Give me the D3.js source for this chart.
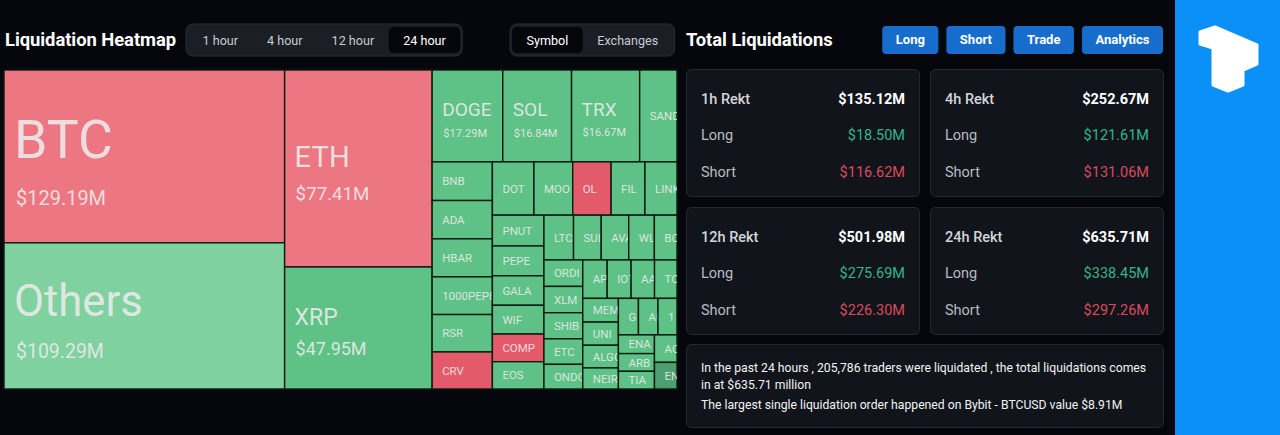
<!DOCTYPE html>
<html>
<head>
<meta charset="utf-8">
<script src="https://cdn.jsdelivr.net/npm/d3@7"></script>
<style>
  html, body { margin: 0; background: #05070d; overflow: hidden; }
  svg { display: block; font-family: Roboto, "Noto Sans", sans-serif; }
</style>
</head>
<body>
<svg id="chart" width="1280" height="435"></svg>
<script>
"use strict";

// heatmap cells, largest first (same order the site sends them)
var symbols = ["BTC", "Others", "ETH", "XRP", "DOGE", "SOL", "TRX", "SAND",
  "BNB", "ADA", "HBAR", "1000PEPE", "RSR", "CRV",
  "DOT", "MOODENG", "OL", "FIL", "LINK",
  "PNUT", "PEPE", "GALA", "WIF", "COMP", "EOS",
  "LTC", "SUI", "AVAX", "WLD", "BCH",
  "ORDI", "XLM", "SHIB", "ETC", "ONDO",
  "APT", "IOTA", "AAVE", "TON",
  "MEME", "UNI", "ALGO", "NEIRO",
  "GOAT", "AI16Z", "1000BONK",
  "ENA", "ARB", "TIA",
  "ACT", "ENS"];

// liquidated amount, $M
var amounts = [129.19, 109.29, 77.41, 47.95, 17.29, 16.84, 16.67, 9.14,
  6.2, 6.15, 6.1, 6.05, 6.0, 5.95,
  5.9, 5.5, 5.45, 4.8, 4.55,
  4.23, 4.1, 4.05, 3.95, 3.8, 3.75,
  3.53, 3.3, 3.28, 3.06, 2.7,
  2.74, 2.72, 2.7, 2.64, 2.55,
  2.5, 2.45, 2.4, 2.3,
  2.25, 2.2, 2.15, 2.0,
  1.95, 1.9, 1.85,
  1.8, 1.7, 1.7,
  1.65, 1.6];

// -2 heavy short, -1 short, 1 light long, 2 long, 3 heavy long
var bias = [-1, 1, -1, 2, 2, 2, 2, 2,
  2, 2, 2, 2, 2, -2,
  2, 2, -2, 2, 2,
  2, 2, 2, 2, -2, 2,
  2, 2, 2, 2, 2,
  2, 2, 2, 2, 2,
  2, 2, 2, 2,
  2, 2, 2, 2,
  2, 2, 2,
  2, 2, 2,
  2, 3];

// rekt cards
var periods = ["1h Rekt", "4h Rekt", "12h Rekt", "24h Rekt"];
var totals = [135.12, 252.67, 501.98, 635.71];
var longs = [18.50, 121.61, 275.69, 338.45];
var shorts = [116.62, 131.06, 226.30, 297.26];

var timeTabs = ["1 hour", "4 hour", "12 hour", "24 hour"];
var groupTabs = ["Symbol", "Exchanges"];
var actions = ["Long", "Short", "Trade", "Analytics"];

var summary = [
  "In the past 24 hours , 205,786 traders were liquidated , the total liquidations comes",
  "in at $635.71 million",
  "The largest single liquidation order happened on Bybit - BTCUSD value $8.91M"
];

var svg = d3.select("#chart");
var money = function (v) { return "$" + d3.format(".2f")(v) + "M"; };

// ---------- header: left ----------
svg.append("text")
  .attr("x", 5).attr("y", 46)
  .attr("fill", "#fff")
  .attr("font-size", 18.4).attr("font-weight", 700)
  .attr("letter-spacing", -0.05)
  .text("Liquidation Heatmap");

// segmented control; selected index gets the dark pill
function segmented(x, y, labels, selected) {
  var g = svg.append("g");
  var box = g.append("rect")
    .attr("x", x).attr("y", y).attr("height", 32).attr("rx", 7)
    .attr("fill", "#1b1e25").attr("stroke", "#2a2e37");
  var cx = x + 2;
  labels.forEach(function (lab, i) {
    var t = g.append("text")
      .attr("y", y + 21)
      .attr("font-size", 12.6)
      .attr("fill", i === selected ? "#fff" : "#c9cbd0")
      .text(lab);
    var tw = t.node().getComputedTextLength();
    if (i === selected) {
      g.insert("rect", "text")
        .attr("x", cx).attr("y", y + 3)
        .attr("width", tw + 29).attr("height", 26).attr("rx", 5)
        .attr("fill", "#05070b");
    }
    t.attr("x", cx + 14.5);
    cx += tw + 29;
  });
  box.attr("width", cx + 2 - x);
}
segmented(186, 24, timeTabs, 3);
segmented(510, 24, groupTabs, 0);

// ---------- header: right ----------
svg.append("text")
  .attr("x", 686).attr("y", 46)
  .attr("fill", "#fff")
  .attr("font-size", 18.4).attr("font-weight", 700)
  .attr("letter-spacing", -0.05)
  .text("Total Liquidations");

// buttons are laid out from the right edge
var bx = 1163;
actions.slice().reverse().forEach(function (lab) {
  var g = svg.append("g");
  var t = g.append("text")
    .attr("y", 44).attr("font-size", 13).attr("font-weight", 700)
    .attr("fill", "#fff").attr("text-anchor", "middle")
    .text(lab);
  var w = t.node().getComputedTextLength() + 27;
  g.insert("rect", "text")
    .attr("x", bx - w).attr("y", 26).attr("width", w).attr("height", 28).attr("rx", 4)
    .attr("fill", "#176dcc");
  t.attr("x", bx - w / 2);
  bx -= w + 8;
});

// blue side panel with logo
svg.append("rect")
  .attr("x", 1175).attr("y", 0).attr("width", 105).attr("height", 435)
  .attr("fill", "#0b90f7");
svg.append("path")
  .attr("d", "M1200,32 L1215,27 L1257,45 L1257,64 L1243,70 L1243,85 L1228,91 L1213,85 L1213,48 L1200,44 Z")
  .attr("fill", "#fff").attr("stroke", "#fff")
  .attr("stroke-width", 3).attr("stroke-linejoin", "round");

// ---------- treemap ----------
var mapX = 4, mapY = 70, mapW = 673, mapH = 319;

var tone = d3.scaleOrdinal()
  .domain([-2, -1, 1, 2, 3])
  .range(["#e35a6b", "#ec7682", "#7fd19f", "#5ec185", "#4d9f6f"]);

var nameSize = d3.scaleLinear()
  .domain([10, 16.5, 48, 77, 110, 130])
  .range([11.5, 19, 23, 29, 44, 54])
  .clamp(true);

var valueSize = d3.scaleLinear()
  .domain([16.5, 48, 130])
  .range([11, 18, 20])
  .clamp(true);

var root = d3.hierarchy({
  children: symbols.map(function (s, i) {
    return { name: s, value: amounts[i], bias: bias[i] };
  })
}).sum(function (d) { return d.value || 0; });

d3.treemap()
  .tile(d3.treemapSquarify)
  .size([mapW, mapH])(root);

var map = svg.append("g").attr("transform", "translate(" + mapX + "," + mapY + ")");

var cell = map.selectAll(".cell")
  .data(root.leaves())
  .enter()
  .append("g")
  .attr("class", "cell")
  .attr("transform", function (d) { return "translate(" + d.x0 + "," + d.y0 + ")"; });

cell.append("clipPath")
  .attr("id", function (d, i) { return "clip" + i; })
  .append("rect")
  .attr("width", function (d) { return d.x1 - d.x0; })
  .attr("height", function (d) { return d.y1 - d.y0; });

cell.append("rect")
  .attr("width", function (d) { return d.x1 - d.x0; })
  .attr("height", function (d) { return d.y1 - d.y0; })
  .attr("fill", function (d) { return tone(d.data.bias); })
  .attr("stroke", "#0c1a12")
  .attr("stroke-width", 1.4);

var label = cell.append("g")
  .attr("clip-path", function (d, i) { return "url(#clip" + i + ")"; })
  .attr("fill", "#ececec")
  .attr("fill-opacity", 0.88);

label.each(function (d) {
  var g = d3.select(this),
    w = d.x1 - d.x0,
    h = d.y1 - d.y0,
    ns = nameSize(d.value),
    showValue = d.value >= 10,
    cy = h / 2,
    nameY;

  if (showValue) {
    var vs = valueSize(d.value),
      gap = vs + ns * 0.5,
      block = ns * 0.71 + gap,
      top = cy - block / 2 + ns * 0.08 + 2;
    nameY = top + ns * 0.71;
    g.append("text")
      .attr("x", d.value > 100 ? 12 : 11).attr("y", nameY + gap)
      .attr("font-size", vs)
      .text(money(d.value));
  } else {
    nameY = cy + ns * 0.36;
  }

  var t = g.append("text")
    .attr("x", 10).attr("y", nameY)
    .attr("font-size", ns)
    .text(d.data.name);

  // long names are cut at the cell edge: keep a letter while a fair part
  // of it still shows, the clip hides the rest
  var node = t.node(), room = w - 10, n = d.data.name.length;
  while (n > 1) {
    var full = node.getSubStringLength(0, n),
      prev = node.getSubStringLength(0, n - 1);
    if (prev + 0.45 * (full - prev) <= room) break;
    n--;
  }
  if (n < d.data.name.length) t.text(d.data.name.slice(0, n));
});

// ---------- rekt cards ----------
var cardW = 233, cardH = 127;
periods.forEach(function (p, i) {
  var x = 686 + (i % 2) * 244,
    y = 69 + Math.floor(i / 2) * 138;
  var g = svg.append("g").attr("transform", "translate(" + x + "," + y + ")");
  g.append("rect")
    .attr("x", 0.5).attr("y", 0.5)
    .attr("width", cardW).attr("height", cardH).attr("rx", 5)
    .attr("fill", "#11141b").attr("stroke", "#252932");

  var rows = [
    { k: p, v: totals[i], kc: "#d3d5d9", vc: "#fff", kw: 500, vw: 700 },
    { k: "Long", v: longs[i], kc: "#b9bcc2", vc: "#33b48c", kw: 400, vw: 400 },
    { k: "Short", v: shorts[i], kc: "#b9bcc2", vc: "#dc4a5b", kw: 400, vw: 400 }
  ];
  rows.forEach(function (r, j) {
    var ty = 34.5 + j * 36.5;
    g.append("text")
      .attr("x", 15).attr("y", ty)
      .attr("font-size", 14.5).attr("font-weight", r.kw)
      .attr("fill", r.kc)
      .text(r.k);
    g.append("text")
      .attr("x", 219).attr("y", ty)
      .attr("text-anchor", "end")
      .attr("font-size", 14.5).attr("font-weight", r.vw)
      .attr("fill", r.vc)
      .text(money(r.v));
  });
});

// ---------- summary box ----------
var info = svg.append("g").attr("transform", "translate(686,344)");
info.append("rect")
  .attr("x", 0.5).attr("y", 0.5)
  .attr("width", 477).attr("height", 83).attr("rx", 5)
  .attr("fill", "#11141b").attr("stroke", "#252932");
info.selectAll("text.line")
  .data(summary)
  .enter()
  .append("text")
  .attr("class", "line")
  .attr("x", 15)
  .attr("y", function (d, i) { return [28, 45, 65][i]; })
  .attr("font-size", 12.2)
  .attr("fill", "#f2f2f2")
  .text(function (d) { return d; });
</script>
</body>
</html>
